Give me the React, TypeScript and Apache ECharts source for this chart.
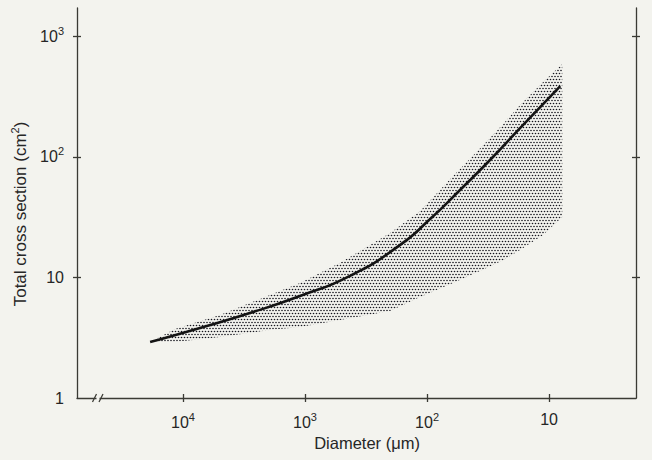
import React, { useEffect, useRef } from "react";
import * as echarts from "echarts";

// Black curve: diameter (µm) vs total cross section (cm²)
const curveDiameter = [18600, 7260, 2830, 1100, 428, 166, 94.4, 53.7, 30.5, 17.3, 8.1];
const curveSection = [2.91, 3.81, 5.07, 7.01, 10.3, 18.6, 30.5, 53.1, 94.1, 173, 386];

// Stippled band (range of values)
const bandDiameter = [18620, 11640, 4980, 1940, 1100, 516, 201, 114, 61.2, 32.2, 23.8, 17.3, 11.2, 7.8];
const bandUpper = [2.91, 3.73, 4.88, 7.14, 8.99, 13.2, 23.3, 35.5, 69.3, 135, 187, 269, 417, 588];
const bandLower = [2.91, 2.91, 3.2, 3.66, 3.88, 4.43, 5.27, 6.88, 8.99, 12.0, 13.9, 16.9, 22.5, 31.7];

// Axes
const xTickValues = [10000, 1000, 100, 10];
const yLabelValues = [1, 10, 100, 1000];
const yTickValues = [10, 100, 1000];
const xMin = 1.94;
const xMax = 73900;
const yMin = 1;
const yMax = 1714;

const BG = "#f3f3ee";
const AXIS = "#3a3a34";
const TEXT = "#262626";
const FONT = "'Liberation Sans', Arial, Helvetica, sans-serif";

function powLabel(v: number): string {
  const e = Math.round(Math.log10(v));
  if (e === 0) return "1";
  if (e === 1) return "10";
  return "10{sup|" + e + "}";
}

function makeDots(): HTMLCanvasElement {
  const c = document.createElement("canvas");
  c.width = 6;
  c.height = 6;
  const ctx = c.getContext("2d")!;
  ctx.fillStyle = "#14141e";
  const pts = [
    [1, 1],
    [4, 1],
    [2.5, 4],
    [5.5, 4],
    [-0.5, 4],
  ];
  pts.forEach(([x, y]) => {
    ctx.beginPath();
    ctx.arc(x + 0.5, y + 0.5, 0.82, 0, Math.PI * 2);
    ctx.fill();
  });
  return c;
}

export default function App() {
  const ref = useRef<HTMLDivElement>(null);

  useEffect(() => {
    if (!ref.current) return;
    const chart = echarts.init(ref.current, null, { renderer: "svg" });
    const dots = makeDots();
    const dotPattern = {
      image: dots,
      repeat: "repeat",
      imageWidth: 6,
      imageHeight: 6,
    } as any;

    const labelRich = {
      sup: { fontSize: 11, color: TEXT, fontFamily: FONT, padding: [0, 0, 11, 0] },
    };

    const xBase = {
      type: "log",
      logBase: 10,
      min: xMin,
      max: xMax,
      inverse: true,
      position: "bottom",
      splitLine: { show: false },
      minorTick: { show: false },
    };
    const yBase = {
      type: "log",
      logBase: 10,
      min: yMin,
      max: yMax,
      splitLine: { show: false },
      minorTick: { show: false },
    };
    const tickLine = { color: AXIS, width: 1.3 };

    chart.setOption({
      animation: false,
      backgroundColor: BG,
      grid: {
        left: 77,
        right: 16,
        top: 8,
        bottom: 62,
        containLabel: false,
        outerBoundsMode: "none",
      },
      xAxis: [
        {
          ...xBase,
          axisLine: { show: true, lineStyle: tickLine },
          axisTick: { show: true, inside: false, length: 4, customValues: xTickValues, lineStyle: tickLine },
          axisLabel: {
            show: true,
            customValues: xTickValues,
            formatter: powLabel,
            margin: 13,
            fontSize: 16,
            color: TEXT,
            fontFamily: FONT,
            rich: labelRich,
          },
          name: "Diameter (μm)",
          nameLocation: "middle",
          nameGap: 36,
          nameTextStyle: {
            fontSize: 16.5,
            color: TEXT,
            fontFamily: FONT,
            padding: [0, 0, 0, 21],
          },
        },
        {
          ...xBase,
          axisLine: { show: false },
          axisTick: { show: true, inside: true, length: 4, customValues: xTickValues, lineStyle: tickLine },
          axisLabel: { show: false },
        },
      ],
      yAxis: [
        {
          ...yBase,
          position: "left",
          axisLine: { show: true, lineStyle: tickLine },
          axisTick: { show: true, inside: false, length: 4, customValues: yTickValues, lineStyle: tickLine },
          axisLabel: {
            show: true,
            customValues: yLabelValues,
            formatter: powLabel,
            margin: 13,
            fontSize: 16,
            color: TEXT,
            fontFamily: FONT,
            rich: labelRich,
          },
          name: "Total cross section (cm{sup|2})",
          nameLocation: "middle",
          nameGap: 41,
          nameRotate: 90,
          nameTextStyle: {
            fontSize: 17,
            color: TEXT,
            fontFamily: FONT,
            padding: [0, 22, 0, 0],
            rich: {
              sup: { fontSize: 11, color: TEXT, fontFamily: FONT, padding: [0, 0, 11, 0] },
            },
          },
        },
        {
          ...yBase,
          position: "left",
          axisLine: { show: false },
          axisTick: { show: true, inside: true, length: 4, customValues: yTickValues, lineStyle: tickLine },
          axisLabel: { show: false },
        },
        {
          ...yBase,
          position: "right",
          axisLine: { show: true, lineStyle: tickLine },
          axisTick: { show: true, inside: false, length: 4, customValues: yTickValues, lineStyle: tickLine },
          axisLabel: { show: false },
        },
        {
          ...yBase,
          position: "right",
          axisLine: { show: false },
          axisTick: { show: true, inside: true, length: 4, customValues: yTickValues, lineStyle: tickLine },
          axisLabel: { show: false },
        },
      ],
      series: [
        {
          name: "band",
          type: "custom",
          coordinateSystem: "cartesian2d",
          xAxisIndex: 0,
          yAxisIndex: 0,
          data: [[bandDiameter[0], bandUpper[0]]],
          encode: { x: 0, y: 1 },
          silent: true,
          z: 2,
          renderItem: (_params: any, api: any) => {
            const top = bandDiameter.map((d, i) => api.coord([d, bandUpper[i]]));
            const bottom = bandDiameter
              .map((d, i) => api.coord([d, bandLower[i]]))
              .reverse();
            return {
              type: "polygon",
              shape: { points: top.concat(bottom) },
              style: { fill: dotPattern, stroke: null },
            };
          },
        },
        {
          name: "curve",
          type: "line",
          xAxisIndex: 0,
          yAxisIndex: 0,
          data: curveDiameter.map((d, i) => [d, curveSection[i]]),
          symbol: "none",
          smooth: 0.55,
          lineStyle: { color: "#141414", width: 2.6 },
          silent: true,
          z: 5,
        },
      ],
      graphic: [
        {
          type: "rect",
          shape: { x: 96.5, y: 395, width: 3, height: 6 },
          style: { fill: BG },
          z: 100,
        },
        {
          type: "line",
          shape: { x1: 92.5, y1: 402, x2: 96.5, y2: 394 },
          style: { stroke: AXIS, lineWidth: 1.3 },
          z: 101,
        },
        {
          type: "line",
          shape: { x1: 99, y1: 402, x2: 103, y2: 394 },
          style: { stroke: AXIS, lineWidth: 1.3 },
          z: 101,
        },
      ],
    });

    return () => {
      chart.dispose();
    };
  }, []);

  return (
    <div
      style={{
        position: "fixed",
        left: 0,
        top: 0,
        width: 652,
        height: 460,
        background: BG,
      }}
    >
      <div ref={ref} style={{ width: 652, height: 460 }} />
    </div>
  );
}
